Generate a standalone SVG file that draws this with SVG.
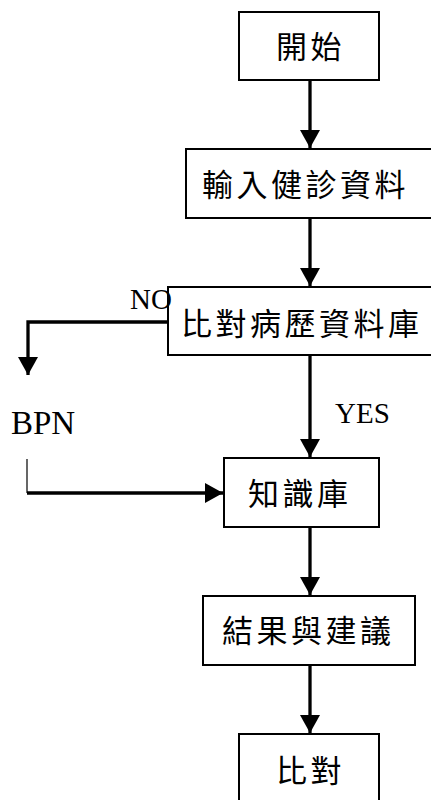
<svg xmlns="http://www.w3.org/2000/svg" width="431" height="800" viewBox="0 0 431 800">
<style>
.box{fill:#fff;stroke:#000;stroke-width:2}
.cjk{font-family:"Noto Sans CJK TC","Noto Sans CJK SC",sans-serif;font-size:31px;letter-spacing:3.5px;fill:#000}
.lat{font-family:"Liberation Serif",serif;fill:#000}
.ln{fill:none;stroke:#000;stroke-width:3.3}
.thin{fill:none;stroke:#000;stroke-width:1.2}
</style>
<defs>
<marker id="ah" markerUnits="userSpaceOnUse" markerWidth="20" markerHeight="20" refX="18" refY="10" orient="auto">
<path d="M0,0 L18,10 L0,20 Z" fill="#000"/>
</marker>
</defs>
<rect width="431" height="800" fill="#fff"/>
<g id="connectors">
<path class="ln" d="M310,80 V148" marker-end="url(#ah)"/>
<path class="ln" d="M310,218 V286" marker-end="url(#ah)"/>
<path class="ln" d="M310,355 V457" marker-end="url(#ah)"/>
<path class="ln" d="M310,527 V595" marker-end="url(#ah)"/>
<path class="ln" d="M310,665 V733" marker-end="url(#ah)"/>
<path class="ln" d="M168,322 H28 V375" marker-end="url(#ah)"/>
<path class="thin" d="M27,459 V493"/>
<path class="ln" d="M27,493 H223" marker-end="url(#ah)"/>
</g>
<g id="bpn"><text class="lat" x="11" y="434" font-size="33">BPN</text></g>
<g id="n1"><rect class="box" x="239" y="12" width="140" height="68"/><text class="cjk" x="276" y="58">開始</text></g>
<g id="n2"><rect class="box" x="186" y="149" width="270" height="69"/><text class="cjk" x="202" y="196">輸入健診資料</text></g>
<g id="n3"><rect class="box" x="168" y="287" width="280" height="68"/><text class="cjk" x="181" y="335">比對病歷資料庫</text></g>
<g id="n4"><rect class="box" x="224" y="458" width="155" height="69"/><text class="cjk" x="248" y="505">知識庫</text></g>
<g id="n5"><rect class="box" x="203" y="596" width="212" height="69"/><text class="cjk" x="222" y="642">結果與建議</text></g>
<g id="n6"><rect class="box" x="239" y="734" width="140" height="80"/><text class="cjk" x="276" y="782">比對</text></g>
<g id="labels">
<text class="lat" x="130" y="309" font-size="29">NO</text>
<text class="lat" x="335" y="423" font-size="29">YES</text>
</g>
</svg>
